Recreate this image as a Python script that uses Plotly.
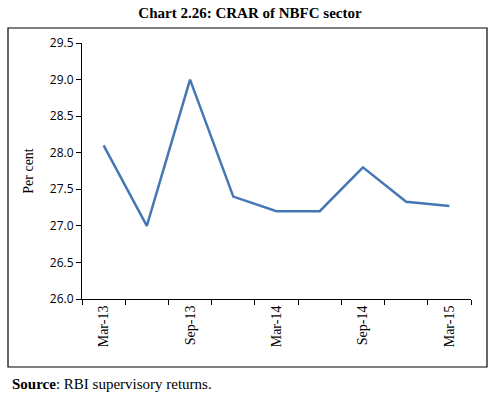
import plotly.graph_objects as go

categories = ["Mar-13", "Jun-13", "Sep-13", "Dec-13", "Mar-14", "Jun-14", "Sep-14", "Dec-14", "Mar-15"]
crar = [28.1, 27.0, 29.0, 27.4, 27.2, 27.2, 27.8, 27.33, 27.27]
y_ticks = [26.0, 26.5, 27.0, 27.5, 28.0, 28.5, 29.0, 29.5]

xpos = list(range(len(categories)))
serif = "Liberation Serif"
sans = "Open Sans"

fig = go.Figure()
fig.add_trace(go.Scatter(x=xpos, y=crar, mode="lines",
                         line=dict(color="#4577b5", width=2.5)))

fig.update_layout(
    width=500, height=398,
    margin=dict(l=82, r=29, t=43, b=99),
    paper_bgcolor="white", plot_bgcolor="white",
    showlegend=False,
    font=dict(family=serif, size=12, color="black"),
    title=dict(text="<b>Chart 2.26: CRAR of NBFC sector</b>", x=0.5, xanchor="center",
               y=1 - 13 / 398, yanchor="middle", font=dict(family=serif, size=15)),
    xaxis=dict(range=[-0.5, len(categories) - 0.5],
               tickmode="array", tickvals=xpos[::2], ticktext=categories[::2],
               tickangle=-90, ticks="", showgrid=False, zeroline=False,
               showline=True, linecolor="black", linewidth=1,
               minor=dict(tickmode="array",
                          tickvals=[i - 0.5 for i in range(len(categories) + 1)],
                          ticks="outside", ticklen=5, tickcolor="black", showgrid=False),
               tickfont=dict(family=serif, size=14)),
    yaxis=dict(range=[26.0, 29.5], tickmode="array", tickvals=y_ticks,
               tickformat=".1f", ticks="outside", ticklen=5, tickcolor="black",
               showgrid=False, zeroline=False, showline=True, linecolor="black", linewidth=1,
               title=dict(text="Per cent", standoff=12, font=dict(family=serif, size=14)),
               tickfont=dict(family=sans, size=12)),
)

fig.add_shape(type="rect", xref="paper", yref="paper",
              x0=(8 - 82) / 389, x1=(487 - 82) / 389,
              y0=(299 - 367) / 256, y1=(299 - 28) / 256,
              line=dict(color="black", width=1.2), fillcolor="rgba(0,0,0,0)",
              layer="above")

fig.add_annotation(xref="paper", yref="paper", x=(10 - 82) / 389, y=(299 - 384) / 256,
                   xanchor="left", yanchor="middle", showarrow=False,
                   text="<b>Source</b>: RBI supervisory returns.",
                   font=dict(family=serif, size=15))

fig.write_html("out.html", config={"displayModeBar": False},
               post_script="document.body.style.margin='0';document.body.style.overflow='hidden';")
